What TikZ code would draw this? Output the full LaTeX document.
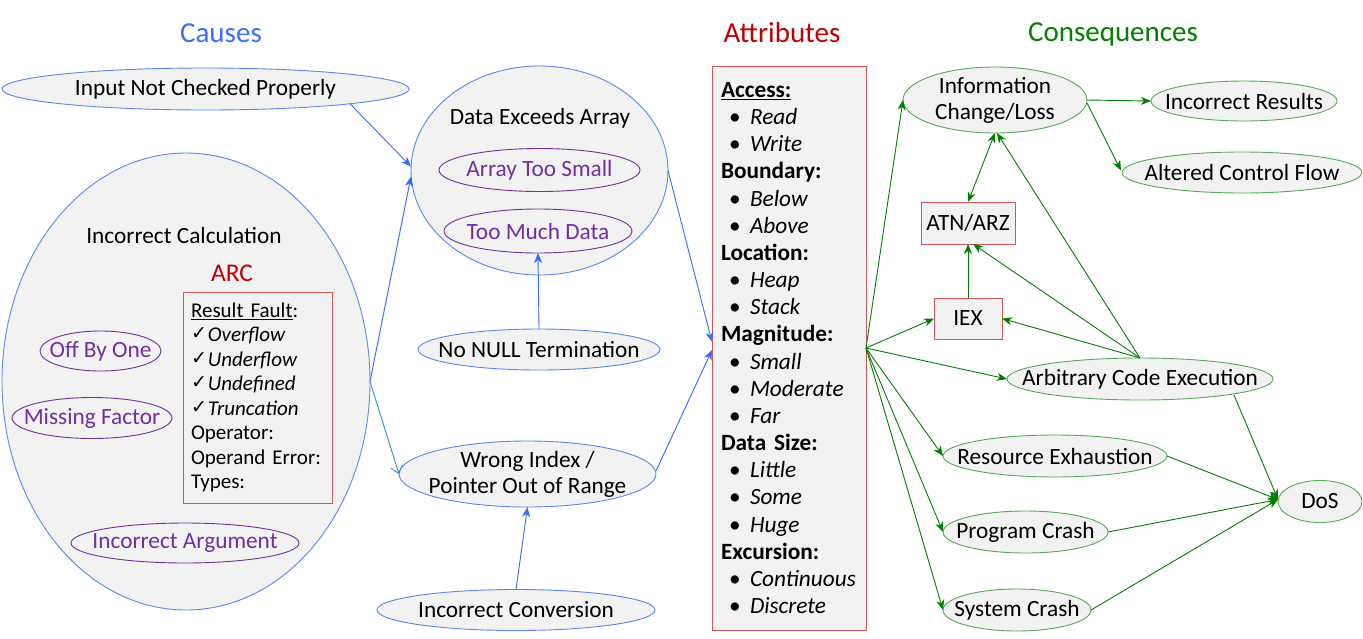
\documentclass[tikz,border=0pt]{standalone}
\usepackage{fontspec}
\setmainfont{Carlito}
\newfontfamily\symfont{DejaVu Sans}
\usetikzlibrary{shapes.geometric,arrows.meta,calc}
\definecolor{cfill}{RGB}{242,242,242}
\definecolor{cblueb}{RGB}{90,135,240}
\definecolor{cbluea}{RGB}{55,105,255}
\definecolor{cteal}{RGB}{55,140,205}
\definecolor{cpurple}{RGB}{112,48,160}
\definecolor{cred}{RGB}{215,85,85}
\definecolor{cdarkred}{RGB}{192,0,0}
\definecolor{cgreen}{RGB}{0,128,0}
\definecolor{cgreenb}{RGB}{85,170,85}
\definecolor{ctitleblue}{RGB}{60,110,255}
\newcommand\zb[1]{\makebox[0pt][c]{#1}}
\newcommand\chk{\raisebox{2pt}{\symfont\fontsize{19}{19}\selectfont ✓}\hspace{1pt}}
\newcommand\attit[1]{\makebox[29pt][l]{\hspace{8pt}•}\textit{#1}}
\begin{document}
\begin{tikzpicture}[x=1pt,y=-1pt,
  every node/.style={inner sep=0pt, outer sep=0pt},
  ell/.style={ellipse, draw, fill=cfill, line width=0.9pt, align=center, font=\fontsize{23.3}{26}\selectfont},
  sz/.style n args={2}{minimum width=#1pt, minimum height=#2pt},
  bnode/.style={ell, draw=cblueb},
  pnode/.style={ell, draw=cpurple, text=cpurple},
  gnode/.style={ell, draw=cgreenb},
  rbox/.style={rectangle, draw=cred, fill=cfill, line width=0.9pt, font=\fontsize{23.3}{26}\selectfont},
  barrow/.style={draw=cbluea, line width=0.9pt, -{Stealth[length=10pt,width=8pt,inset=3pt]}},
  tarrow/.style={draw=cteal, line width=0.9pt, -{Straight Barb[length=7pt,width=12pt]}},
  garrow/.style={draw=cgreen, line width=0.9pt, -{Stealth[length=10pt,width=8pt,inset=3pt]}},
  gdarrow/.style={draw=cgreen, line width=0.9pt, {Stealth[length=10pt,width=8pt,inset=3pt]}-{Stealth[length=10pt,width=8pt,inset=3pt]}},
  titletext/.style={font=\fontsize{29}{32}\selectfont}
]
\useasboundingbox[fill=white] (0,0) rectangle (1363,638);

% titles
\node[titletext, text=ctitleblue] (tcauses) at (221,33) {Causes};
\node[titletext, text=cdarkred] (tattr) at (782,33) {Attributes};
\node[titletext, text=cgreen] (tcons) at (1113,34) {Consequences};

% causes
\node[bnode, sz={407}{42}] (inp) at (205.5,89) {\zb{Input Not Checked Properly}};
\node[bnode, sz={368}{457}] (calc) at (186,381.5) {};
\node[font=\fontsize{23.3}{26}\selectfont] (calclabel) at (184,235) {Incorrect Calculation};
\node[font=\fontsize{25.5}{28}\selectfont, text=cdarkred] (arclabel) at (232,273) {ARC};
\node[rbox, font=\fontsize{21}{24.5}\selectfont, text width=133pt, inner xsep=8pt, minimum height=211pt, align=left] (arcbox) at (257.5,397.5)
 {\underline{Result Fault}:\\
  \chk\textit{Overflow}\\
  \chk\textit{Underflow}\\
  \chk\textit{Undefined}\\
  \chk\textit{Truncation}\\
  Operator:\\
  Operand Error:\\
  Types:};
\node[pnode, sz={121}{40}] (offby) at (100.5,351) {\zb{Off By One}};
\node[pnode, sz={160}{41}] (missing) at (92,418) {\zb{Missing Factor}};
\node[pnode, sz={228}{40}] (incarg) at (185,543) {\zb{Incorrect Argument}};

\node[bnode, sz={257}{209}] (dexc) at (539.5,170.5) {};
\node[font=\fontsize{23.3}{26}\selectfont] (dexclabel) at (540,118) {Data Exceeds Array};
\node[pnode, sz={201}{43}] (small) at (539.5,170) {\zb{Array Too Small}};
\node[pnode, sz={188}{44}] (much) at (538,231) {\zb{Too Much Data}};
\node[bnode, sz={242}{41}] (nonull) at (539,349.5) {\zb{No NULL Termination}};
\node[bnode, sz={257}{66}] (wrong) at (527.5,474) {\zb{Wrong Index /}\\\zb{Pointer Out of Range}};
\node[bnode, sz={278}{41}] (conv) at (516,610) {\zb{Incorrect Conversion}};

% attributes
\node[rbox, font=\fontsize{23.3}{27.16}\selectfont, text width=136pt, inner xsep=9pt, minimum height=564pt, align=left] (attr) at (789,348)
 {\underline{\textbf{Access:}}\\
  \attit{Read}\\
  \attit{Write}\\
  \textbf{Boundary:}\\
  \attit{Below}\\
  \attit{Above}\\
  \textbf{Location:}\\
  \attit{Heap}\\
  \attit{Stack}\\
  \textbf{Magnitude:}\\
  \attit{Small}\\
  \attit{Moderate}\\
  \attit{Far}\\
  \textbf{Data Size:}\\
  \attit{Little}\\
  \attit{Some}\\
  \attit{Huge}\\
  \textbf{Excursion:}\\
  \attit{Continuous}\\
  \attit{Discrete}};

% consequences
\node[gnode, sz={184}{66}] (info) at (995,100) {\zb{Information}\\\zb{Change/Loss}};
\node[gnode, sz={186}{40}] (incres) at (1244,101) {\zb{Incorrect Results}};
\node[gnode, sz={240}{41}] (altered) at (1242,172.5) {\zb{Altered Control Flow}};
\node[rbox, minimum width=94pt, minimum height=42pt] (atn) at (968,223) {ATN/ARZ};
\node[rbox, minimum width=68pt, minimum height=41pt] (iex) at (968,318.5) {IEX};
\node[gnode, sz={266}{42}] (ace) at (1140,379) {\zb{Arbitrary Code Execution}};
\node[gnode, sz={224}{42}] (resex) at (1055,456) {\zb{Resource Exhaustion}};
\node[gnode, sz={165}{42}] (pcrash) at (1025.5,532) {\zb{Program Crash}};
\node[gnode, sz={148}{42}] (scrash) at (1017,610) {\zb{System Crash}};
\node[gnode, sz={84}{42}] (dos) at (1320,501.5) {\zb{DoS}};

% blue connectors
\draw[barrow] ($(inp.center)+(144.5,14.8)$) -- ($(dexc.west)+(0,-4)$);
\draw[barrow] (calc.east) -- ($(dexc.west)+(0,6)$);
\draw[tarrow] (calc.east) -- (wrong.west);
\draw[barrow] (nonull.north) -- (much.south);
\draw[barrow] (conv.north) -- (wrong.south);
\draw[barrow] (dexc.east) -- ($(attr.west)+(0,-6)$);
\draw[barrow] ($(wrong.east)+(0,-3)$) -- ($(attr.west)+(0,2)$);

% green connectors
\draw[garrow] (attr.east) -- (info.west);
\draw[garrow] (attr.east) -- (iex.west);
\draw[garrow] (attr.east) -- (ace.west);
\draw[garrow] (attr.east) -- (resex.west);
\draw[garrow] (attr.east) -- (pcrash.west);
\draw[garrow] (attr.east) -- (scrash.west);
\draw[garrow] (info.east) -- (incres.west);
\draw[garrow] ($(info.east)+(0,3)$) -- ($(altered.west)+(-1,-2)$);
\draw[gdarrow] (info.south) -- (atn.north);
\draw[garrow] (iex.north) -- (atn.south);
\draw[garrow] (ace.north) -- ($(atn.south)+(5,0)$);
\draw[garrow] (ace.north) -- (iex.east);
\draw[garrow] (ace.north) -- ($(info.south)+(2,0)$);
\draw[garrow] ($(ace.center)+(94,16)$) -- ($(dos.west)+(0,-2)$);
\draw[garrow] (resex.east) -- ($(dos.west)+(0,-2)$);
\draw[garrow] (pcrash.east) -- ($(dos.west)+(0,-2)$);
\draw[garrow] (scrash.east) -- ($(dos.west)+(0,-2)$);
\end{tikzpicture}
\end{document}
